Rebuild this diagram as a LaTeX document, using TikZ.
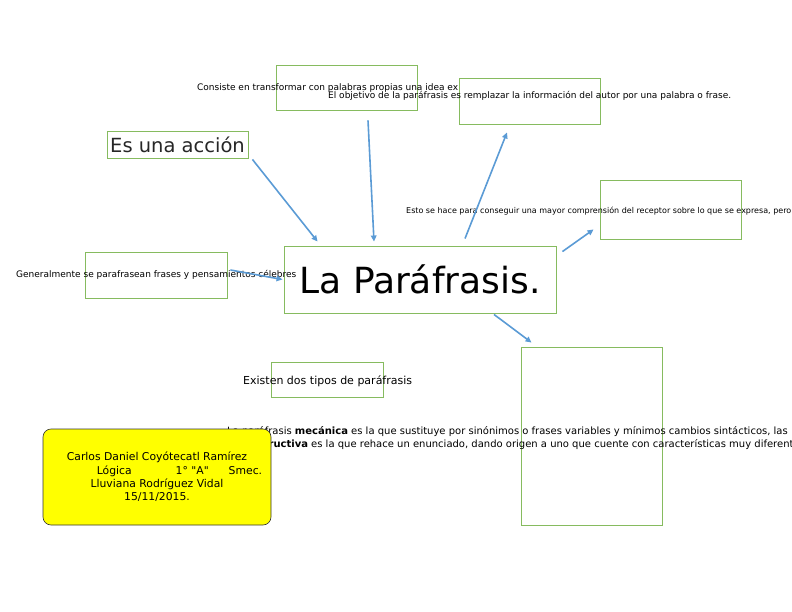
\documentclass[tikz,border=0pt]{standalone}
\usepackage{fontspec}
\setmainfont{DejaVu Sans}[Ligatures=TeXOff]
\usetikzlibrary{arrows.meta}
\definecolor{boxgreen}{HTML}{86BB5F}
\definecolor{linkblue}{HTML}{5B9BD5}
\definecolor{notecolor}{HTML}{FFFF00}
\tikzset{
  box/.style={draw=boxgreen, line width=0.9pt, inner sep=0pt},
  note/.style={anchor=base west, inner sep=0pt, font=\fontsize{9}{11}\selectfont},
  link/.style={draw=linkblue, line width=1.6pt, -{Triangle[length=6pt,width=5.5pt]}}
}
\begin{document}
\begin{tikzpicture}[x=1pt,y=-1pt]
  \useasboundingbox (0,0) rectangle (792,612);
  \clip (0,0) rectangle (792,612);
  % boxes
  \node[box, minimum width=141pt, minimum height=45pt] (consiste) at (346.5,87.5) {};
  \node[box, minimum width=141pt, minimum height=46pt] (objetivo) at (529.5,101) {};
  \node[box, minimum width=141pt, minimum height=27pt, text=black!85,
    font=\fontsize{19.5}{22}\selectfont] (accion) at (177.5,144.5) {Es una acción};
  \node[box, minimum width=141pt, minimum height=59pt] (esto) at (670.5,209.5) {};
  \node[box, minimum width=142pt, minimum height=46pt] (general) at (156,275) {};
  \node[box, minimum width=272pt, minimum height=67pt,
    font=\fontsize{36}{40}\selectfont] (main) at (420,279.5) {La Paráfrasis.};
  \node[box, minimum width=112pt, minimum height=35pt] (existen) at (327,379.5) {};
  \node[box, minimum width=141pt, minimum height=178pt] (tipos) at (591.5,436) {};
  % texts
  \node[note] (consistetxt) at (197,91) {Consiste en transformar con palabras propias una idea ex};
  \node[note] (objetivotxt) at (328,99) {El objetivo de la paráfrasis es remplazar la información del autor por una palabra o frase.};
  \node[note, font=\fontsize{8}{10}\selectfont] (estotxt) at (406,214) {Esto se hace para conseguir una mayor comprensión del receptor sobre lo que se expresa, pero};
  \node[note] (generaltxt) at (16,277.5) {Generalmente se parafrasean frases y pensamientos célebres};
  \node[note, font=\fontsize{11}{13}\selectfont] (existentxt) at (243,384) {Existen dos tipos de paráfrasis};
  \node[note, font=\fontsize{10}{12}\selectfont] (mecanica) at (227,434) {La paráfrasis \textbf{mecánica} es la que sustituye por sinónimos o frases variables y mínimos cambios sintácticos, las};
  \node[note, font=\fontsize{10}{12}\selectfont] (constructiva) at (170,447.5) {La paráfrasis \textbf{constructiva} es la que rehace un enunciado, dando origen a uno que cuente con características muy diferent};
  % links
  \draw[link] ([xshift=4pt,yshift=-1pt]accion.south east) -- ([xshift=34pt,yshift=4pt]main.north west);
  \draw[link] ([xshift=21.5pt,yshift=-10pt]consiste.south) -- ([xshift=-46pt,yshift=4pt]main.north);
  \draw[link] ([xshift=45pt,yshift=7pt]main.north) -- ([xshift=-22.5pt,yshift=-8pt]objetivo.south);
  \draw[link] ([xshift=6pt,yshift=-6pt]main.north east) -- ([xshift=-6pt,yshift=10pt]esto.south west);
  \draw[link] ([xshift=3pt,yshift=5pt]general.east) -- ([xshift=-1pt]main.west);
  \draw[link] ([xshift=74pt,yshift=-1pt]main.south) -- ([xshift=11pt,yshift=4pt]tipos.north west);
  % data
  \node[draw=black!80, line width=0.6pt, fill=notecolor, rounded corners=8pt,
    minimum width=228pt, minimum height=96pt, align=center,
    font=\fontsize{10.8}{13.3}\selectfont] (datos) at (157,477)
    {Carlos Daniel Coyótecatl Ramírez\\
     \hspace*{45pt}Lógica\hspace{44pt}1° "A"\hspace{20pt}Smec.\\
     Lluviana Rodríguez Vidal\\
     15/11/2015.};
\end{tikzpicture}
\end{document}
